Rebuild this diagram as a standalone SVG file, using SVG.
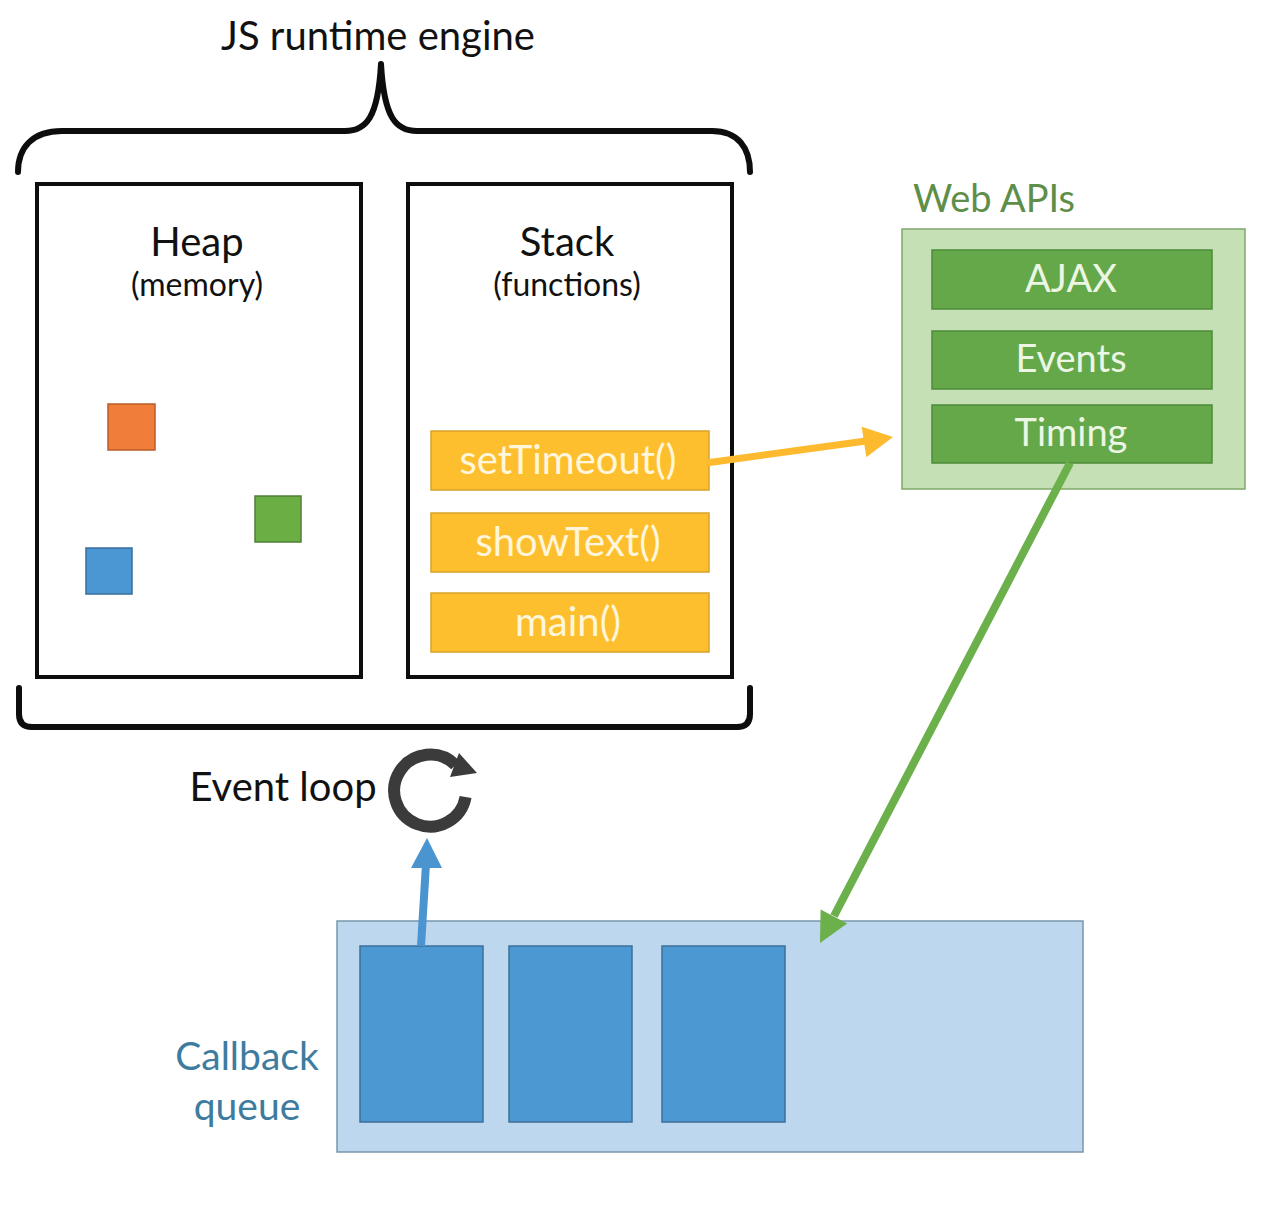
<svg xmlns="http://www.w3.org/2000/svg" width="1270" height="1210" viewBox="0 0 1270 1210">
<style>
  text { font-family: Lato, "Open Sans", "Liberation Sans", sans-serif; text-anchor: middle; }
  .big { font-size: 40px; fill: #111; }
  .sub { font-size: 32px; fill: #111; }
  .frameTxt { font-size: 40px; fill: #FFF6DC; }
  .apiTxt { font-size: 38px; fill: #ECF6E4; }
  .engine { fill: #fff; stroke: #0d0d0d; stroke-width: 4; }
  .brace { fill: none; stroke: #0d0d0d; stroke-width: 6; stroke-linecap: round; stroke-linejoin: round; }
  .frame { fill: #FEBF2E; stroke: #D9A227; stroke-width: 1.5; }
  .api { fill: #64A84A; stroke: #4E8A3A; stroke-width: 1.5; }
  .cb { fill: #4B98D2; stroke: #3D6F99; stroke-width: 1.5; }
  .qtxt { font-size: 39px; fill: #3E7C9F; }
</style>
<rect width="1270" height="1210" fill="#fff"/>

<g id="title">
  <text class="big" x="378" y="50">JS runtime engine</text>
  <path class="brace" d="M18,172 C18,148 32,131 62,131 L345,131 C366,131 378,118 381,64 C384,118 396,131 417,131 L712,131 C738,131 750,148 750,172"/>
  <path class="brace" d="M19,688 L19,714 Q19,727 32,727 L737,727 Q750,727 750,714 L750,688"/>
</g>

<g id="heap">
  <rect class="engine" x="37" y="184" width="324" height="493"/>
  <text class="big" x="197" y="256">Heap</text>
  <text class="sub" x="197" y="296">(memory)</text>
  <rect x="108" y="404" width="47" height="46" fill="#F07D3A" stroke="#B95C27" stroke-width="1.5"/>
  <rect x="255" y="496" width="46" height="46" fill="#6AAE44" stroke="#507F35" stroke-width="1.5"/>
  <rect x="86" y="548" width="46" height="46" fill="#4B97D3" stroke="#3A6E9A" stroke-width="1.5"/>
</g>

<g id="stack">
  <rect class="engine" x="408" y="184" width="324" height="493"/>
  <text class="big" x="567" y="256">Stack</text>
  <text class="sub" x="567" y="296">(functions)</text>
</g>

<g id="frame-setTimeout">
  <rect class="frame" x="431" y="431" width="278" height="59"/>
  <text class="frameTxt" x="568" y="474">setTimeout()</text>
</g>
<g id="frame-showText">
  <rect class="frame" x="431" y="513" width="278" height="59"/>
  <text class="frameTxt" x="568" y="556">showText()</text>
</g>
<g id="frame-main">
  <rect class="frame" x="431" y="593" width="278" height="59"/>
  <text class="frameTxt" x="568" y="636">main()</text>
</g>

<g id="webapis">
  <text x="994" y="212" style="font-size:38px; fill:#5E8E49;">Web APIs</text>
  <rect x="902" y="229" width="343" height="260" fill="#C5E0B4" stroke="#7FA86A" stroke-width="1.5"/>
</g>
<g id="api-ajax">
  <rect class="api" x="932" y="250" width="280" height="59"/>
  <text class="apiTxt" x="1071" y="292">AJAX</text>
</g>
<g id="api-events">
  <rect class="api" x="932" y="331" width="280" height="58"/>
  <text class="apiTxt" x="1071" y="372">Events</text>
</g>
<g id="api-timing">
  <rect class="api" x="932" y="405" width="280" height="58"/>
  <text class="apiTxt" x="1071" y="446">Timing</text>
</g>

<g id="event-loop">
  <text class="big" x="283" y="801">Event loop</text>
  <path d="M465.6,797 A36,36 0 1 1 455.5,765" fill="none" stroke="#3B3B3B" stroke-width="12"/>
  <polygon points="459,753 477,773 450,777" fill="#3B3B3B"/>
</g>

<g id="callback-queue">
  <text class="qtxt" x="247" y="1070">Callback</text>
  <text class="qtxt" x="247" y="1120">queue</text>
  <rect x="337" y="921" width="746" height="231" fill="#BDD7EE" stroke="#7A96AD" stroke-width="1.5"/>
  <rect class="cb" x="360" y="946" width="123" height="176"/>
  <rect class="cb" x="509" y="946" width="123" height="176"/>
  <rect class="cb" x="662" y="946" width="123" height="176"/>
</g>

<g id="connectors">
  <line x1="706" y1="463" x2="866" y2="441" stroke="#FDBA2F" stroke-width="7"/>
  <polygon points="893,437 866.3,457.3 861.7,426.7" fill="#FDBA2F"/>
  <line x1="1070" y1="463" x2="834" y2="916" stroke="#6BB04B" stroke-width="8"/>
  <polygon points="820,943 847.2,923.4 820.6,909.4" fill="#6BB04B"/>
  <line x1="421" y1="946" x2="426" y2="864" stroke="#4A94D0" stroke-width="8"/>
  <polygon points="427,838 442,868 411,868" fill="#4A94D0"/>
</g>
</svg>
